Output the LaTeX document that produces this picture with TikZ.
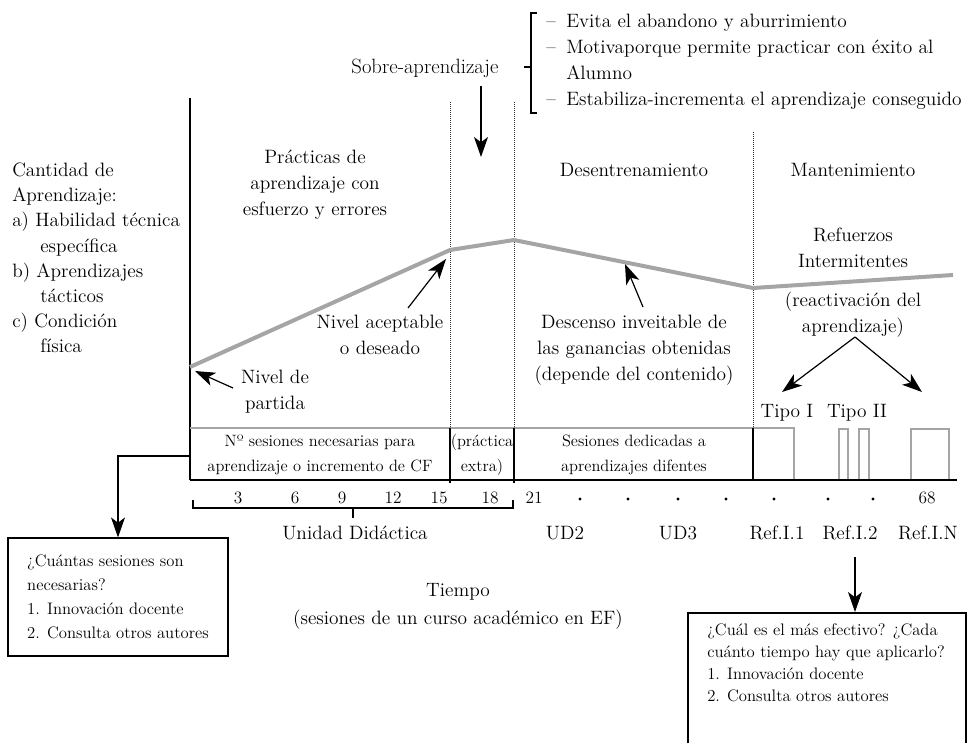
\documentclass[tikz,border=0pt]{standalone}
\usepackage{fontspec}
\usetikzlibrary{arrows.meta}
\definecolor{curvegray}{RGB}{165,165,165}
\definecolor{linegray}{RGB}{165,165,165}
\begin{document}
\begin{tikzpicture}[x=0.75pt,y=-0.75pt,
  big/.style={font=\fontsize{14.5}{19.5}\selectfont, inner sep=0pt, align=center},
  small/.style={font=\fontsize{12.3}{18.7}\selectfont, inner sep=0pt, align=center},
  smallbox/.style={font=\fontsize{12.5}{18}\selectfont, align=left},
  arr/.style={-{Stealth[length=15pt,width=10.5pt,inset=4pt]}, line width=0.9pt},
  axisline/.style={line width=1pt},
  dots/.style={line width=0.6pt, dash pattern=on 0.6pt off 0.9pt, black!80},
  thinblack/.style={line width=0.9pt},
  graybar/.style={line width=0.8pt, draw=linegray},
  seqdot/.style={circle, fill=black, inner sep=0pt, minimum size=2.4pt},
  levelcurve/.style={line width=3pt, draw=curvegray, line join=miter}]
\useasboundingbox (0,0) rectangle (968,743);

% ---- top: Sobre-aprendizaje and bracket list
\node[big, font=\fontsize{15.5}{19.5}\selectfont] (sobre) at (425,68) {Sobre-aprendizaje};
\coordinate (sobreA) at (481,86);
\coordinate (sobreB) at (481,157);
\draw[arr] (sobreA) -- (sobreB);
\coordinate (brT) at (531,13);
\coordinate (brB) at (531,113);
\coordinate (brM) at (531,67);
\draw[thinblack] ([xshift=4.5pt]brT) -- (brT) -- (brB) -- ([xshift=4.5pt]brB);
\draw[thinblack] (brM) -- ([xshift=-5pt]brM);
\node[big, align=left, anchor=west] (list) at (546,62)
 {\makebox[15pt][l]{–}Evita el abandono y aburrimiento\\
  \makebox[15pt][l]{–}Motivaporque permite practicar con éxito al\\
  \makebox[15pt][l]{}Alumno\\
  \makebox[15pt][l]{–}Estabiliza-incrementa el aprendizaje conseguido};

% ---- left axis description
\node[big, align=left, anchor=west, font=\fontsize{14.5}{18.9}\selectfont] (cantidad) at (12,258)
 {Cantidad de\\
  Aprendizaje:\\
  a) Habilidad técnica\\
  \hspace*{21pt}específica\\
  b) Aprendizajes\\
  \hspace*{21pt}tácticos\\
  c) Condición\\
  \hspace*{21pt}física};

% ---- axis and dotted separators
\coordinate (axTop) at (190,98);
\coordinate (axBot) at (190,480);
\draw[axisline] (axTop) -- (axBot);
\coordinate (d1T) at (450,102); \coordinate (d1B) at (450,428);
\coordinate (d2T) at (514,102); \coordinate (d2B) at (514,428);
\coordinate (d3T) at (753,132); \coordinate (d3B) at (753,428);
\draw[dots] (d1T) -- (d1B);
\draw[dots] (d2T) -- (d2B);
\draw[dots] (d3T) -- (d3B);

% ---- phase titles
\node[big] (practicas) at (315,185) {Prácticas de\\aprendizaje con\\esfuerzo y errores};
\node[big] (desent) at (634,170) {Desentrenamiento};
\node[big] (mant) at (853,170) {Mantenimiento};
\node[big] (refuerzos) at (853,248) {Refuerzos\\Intermitentes};
\node[big] (react) at (853,315) {(reactivación del\\aprendizaje)};

% ---- learning curve
\coordinate (c0) at (190,367);
\coordinate (c1) at (450,250);
\coordinate (c2) at (514,240);
\coordinate (c3) at (753,288);
\coordinate (c4) at (953,275);
\draw[levelcurve] (c0) -- (c1) -- (c2) -- (c3) -- (c4);

% ---- curve labels
\node[big] (partida) at (275,392) {Nivel de\\partida};
\coordinate (partidaA) at (233,388);
\coordinate (partidaB) at (195,371);
\draw[arr] (partidaA) -- (partidaB);
\node[big] (acept) at (380,335) {Nivel aceptable\\o deseado};
\coordinate (aceptA) at (408,308);
\coordinate (aceptB) at (446,259);
\draw[arr] (aceptA) -- (aceptB);
\node[big] (descenso) at (634,350) {Descenso inveitable de\\las ganancias obtenidas\\(depende del contenido)};
\coordinate (descA) at (643,307);
\coordinate (descB) at (625,264);
\draw[arr] (descA) -- (descB);
\coordinate (reactA) at (855,337);
\coordinate (tipoIA) at (782,392);
\coordinate (tipoIIA) at (922,392);
\draw[arr] (reactA) -- (tipoIA);
\draw[arr] (reactA) -- (tipoIIA);
\node[big] (tipoI) at (787,413) {Tipo I};
\node[big] (tipoII) at (857,413) {Tipo II};

% ---- session strip
\coordinate (s0) at (190,428);
\coordinate (s1) at (794,428);
\coordinate (s1b) at (794,480);
\draw[graybar] (s0) -- (s1) -- (s1b);
\draw[graybar] (839,480) -- (839,429) -- (848,429) -- (848,480);
\draw[graybar] (859,480) -- (859,429) -- (869,429) -- (869,480);
\draw[graybar] (911,480) -- (911,429) -- (949,429) -- (949,480);
\coordinate (sEnd) at (957,480);
\draw[thinblack] (axBot) -- (sEnd);
\draw[thinblack] (d1B) -- (450,483);
\draw[thinblack] (d2B) -- (514,483);
\draw[thinblack] (d3B) -- (753,480);
\node[small] (nses) at (320,455) {Nº sesiones necesarias para\\aprendizaje o incremento de CF};
\node[small] (extra) at (482,455) {(práctica\\extra)};
\node[small] (dedic) at (634,455) {Sesiones dedicadas a\\aprendizajes difentes};

% ---- numbers row
\foreach \v/\px in {3/238,6/295,9/342,12/393,15/439,18/490,21/534,68/927}
  \node[small, font=\fontsize{13}{16}\selectfont] (n\v) at (\px,498) {\v};
\foreach \i/\px in {1/580,2/628,3/678,4/726,5/774,6/828,7/873}
  \node[seqdot] (dot\i) at (\px,499) {};
\coordinate (ubL) at (193,500);
\coordinate (ubR) at (513,500);
\coordinate (ubM) at (353,508);
\draw[thinblack] (ubL) -- (193,508) -- (513,508) -- (ubR);
\draw[thinblack] (ubM) -- (353,518);
\node[big] (unidad) at (355,533) {Unidad Didáctica};
\node[big] (ud2) at (565,533) {UD2};
\node[big] (ud3) at (678,533) {UD3};
\node[big] (ref1) at (777,533) {Ref.I.1};
\node[big] (ref2) at (850,533) {Ref.I.2};
\node[big] (refn) at (928,533) {Ref.I.N};

\node[big] (tiempo) at (458,592) {Tiempo};
\node[big] (sesiones) at (458,620) {(sesiones de un curso académico en EF)};

% ---- left question box
\node[smallbox, draw, line width=0.9pt, minimum width=165pt, minimum height=88.5pt] (lbox) at (118,597)
 {¿Cuántas sesiones son\\necesarias?\\1. Innovación docente\\2. Consulta otros autores};
\coordinate (lstart) at (190,456);
\draw[arr] (lstart) -| (lbox.north);

% ---- right question box (runs off the bottom edge)
\coordinate (rA) at (855,557);
\coordinate (rB) at (855,612);
\draw[arr] (rA) -- (rB);
\draw[thinblack] (688,743) -- (688,613) -- (966,613) -- (966,743);
\node[smallbox, inner sep=0pt, anchor=north west, font=\fontsize{12.5}{16.6}\selectfont] (rbox) at (707,623)
 {¿Cuál es el más efectivo? ¿Cada\\cuánto tiempo hay que aplicarlo?\\1. Innovación docente\\2. Consulta otros autores};
\end{tikzpicture}
\end{document}
